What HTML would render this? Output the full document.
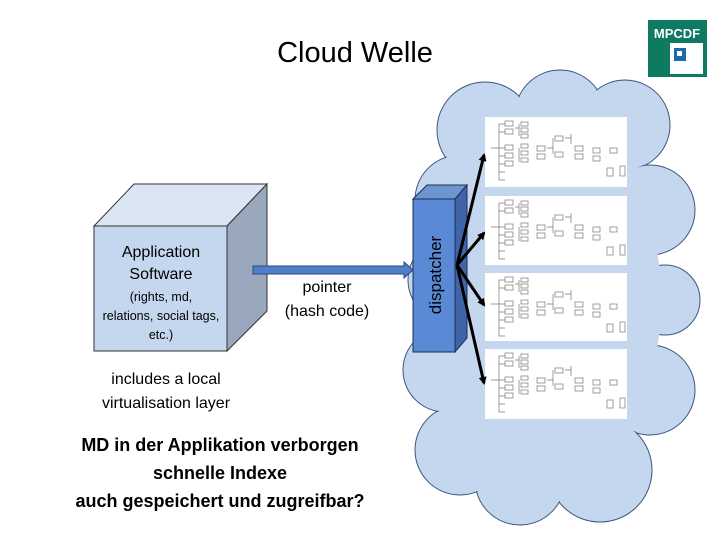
<!DOCTYPE html>
<html><head><meta charset="utf-8"><style>
body{margin:0;background:#fff}
svg{display:block}
text{font-family:"Liberation Sans",sans-serif}
</style></head><body>
<svg width="720" height="540" viewBox="0 0 720 540" xmlns="http://www.w3.org/2000/svg">
<defs>
<marker id="ah" markerWidth="8" markerHeight="8" refX="6" refY="4" orient="auto" markerUnits="userSpaceOnUse">
<path d="M0,0 L8,4 L0,8 Z" fill="#000"/></marker>
<g id="tree" fill="none" stroke="#777" stroke-width="0.7">
<path d="M6,30 H14 M14,6 V62 M14,6 H20 M14,14 H20 M14,30 H20 M14,38 H20 M14,46 H20 M14,54 H20 M14,62 H20"/>
<rect x="20" y="3" width="8" height="5"/><rect x="20" y="11" width="8" height="5"/><rect x="20" y="27" width="8" height="5"/><rect x="20" y="35" width="8" height="5"/><rect x="20" y="43" width="8" height="5"/>
<path d="M30,10 H34 M34,6 V18 M34,30 V44"/>
<rect x="36" y="4" width="7" height="4"/><rect x="36" y="10" width="7" height="4"/><rect x="36" y="16" width="7" height="4"/><rect x="36" y="26" width="7" height="4"/><rect x="36" y="33" width="7" height="4"/><rect x="36" y="40" width="7" height="4"/>
<rect x="52" y="28" width="8" height="5"/><rect x="52" y="36" width="8" height="5"/>
<path d="M62,30 H68 M68,20 V36"/><rect x="70" y="18" width="8" height="5"/><rect x="70" y="34" width="8" height="5"/>
<path d="M80,20 H86 M86,16 V26"/><rect x="90" y="28" width="8" height="5"/><rect x="90" y="36" width="8" height="5"/>
<rect x="108" y="30" width="7" height="5"/><rect x="108" y="38" width="7" height="5"/>
<rect x="125" y="30" width="7" height="5"/><rect x="122" y="50" width="6" height="8"/><rect x="135" y="48" width="5" height="10"/>
</g>
</defs>
<text x="355" y="62" font-size="29" text-anchor="middle" fill="#000">Cloud Welle</text>
<!-- logo -->
<rect x="648" y="20" width="59" height="57" fill="#0e7a62"/>
<text x="677" y="38" font-size="13" font-weight="bold" fill="#fff" text-anchor="middle">MPCDF</text>
<rect x="670" y="43" width="33" height="31" fill="#fff"/>
<rect x="674" y="48" width="12" height="13" fill="#1b6aa9"/>
<rect x="677" y="51" width="5" height="5" fill="#fff"/>
<!-- cloud -->
<g fill="#c5d7ee" stroke="#3a5680" stroke-width="1">
<circle cx="485" cy="130" r="48"/><circle cx="560" cy="115" r="45"/><circle cx="625" cy="125" r="45"/>
<circle cx="650" cy="210" r="45"/><circle cx="665" cy="300" r="35"/><circle cx="650" cy="390" r="45"/>
<circle cx="600" cy="470" r="52"/><circle cx="520" cy="480" r="45"/><circle cx="460" cy="450" r="45"/>
<circle cx="445" cy="370" r="42"/><circle cx="450" cy="280" r="42"/><circle cx="460" cy="200" r="45"/>
</g>
<g fill="#c5d7ee">
<circle cx="485" cy="130" r="47"/><circle cx="560" cy="115" r="44"/><circle cx="625" cy="125" r="44"/>
<circle cx="650" cy="210" r="44"/><circle cx="665" cy="300" r="34"/><circle cx="650" cy="390" r="44"/>
<circle cx="600" cy="470" r="51"/><circle cx="520" cy="480" r="44"/><circle cx="460" cy="450" r="44"/>
<circle cx="445" cy="370" r="41"/><circle cx="450" cy="280" r="41"/><circle cx="460" cy="200" r="44"/>
<polygon points="485,130 560,115 625,125 650,210 665,300 650,390 600,470 520,480 460,450 445,370 450,280 460,200"/>
</g>
<!-- panels -->
<rect x="485" y="117" width="142" height="70" fill="#fff"/>
<rect x="485" y="196" width="142" height="69" fill="#fff"/>
<rect x="485" y="273" width="142" height="68" fill="#fff"/>
<rect x="485" y="349" width="142" height="70" fill="#fff"/>
<use href="#tree" x="485" y="118"/><use href="#tree" x="485" y="197"/><use href="#tree" x="485" y="274"/><use href="#tree" x="485" y="350"/>
<!-- dispatcher -->
<polygon points="413,199 427,185 467,185 455,199" fill="#6d95d0" stroke="#1c2e50"/>
<polygon points="455,199 467,185 467,338 455,352" fill="#3f64a8" stroke="#1c2e50"/>
<rect x="413" y="199" width="42" height="153" fill="#5a8ad6" stroke="#1c2e50"/>
<text transform="translate(441,275) rotate(-90)" font-size="17" text-anchor="middle" fill="#000">dispatcher</text>
<!-- arrows -->
<g stroke="#000" stroke-width="3" marker-end="url(#ah)">
<line x1="457" y1="265" x2="484" y2="155"/>
<line x1="457" y1="265" x2="484" y2="233"/>
<line x1="457" y1="265" x2="484" y2="305"/>
<line x1="457" y1="265" x2="484" y2="383"/>
</g>
<!-- cube -->
<polygon points="94,226 134,184 267,184 227,226" fill="#dbe5f3" stroke="#333"/>
<polygon points="227,226 267,184 267,311 227,351" fill="#9aa8bd" stroke="#333"/>
<rect x="94" y="226" width="133" height="125" fill="#c5d7ee" stroke="#333"/>
<text x="161" y="257" font-size="16" text-anchor="middle">Application</text>
<text x="161" y="279" font-size="16" text-anchor="middle">Software</text>
<text x="161" y="301" font-size="12.5" text-anchor="middle">(rights, md,</text>
<text x="161" y="320" font-size="12.5" text-anchor="middle">relations, social tags,</text>
<text x="161" y="339" font-size="12.5" text-anchor="middle">etc.)</text>
<!-- pointer arrow -->
<polygon points="253,266 404,266 404,262 413,270 404,278 404,274 253,274" fill="#4f7fc8" stroke="#2a4a80"/>
<text x="327" y="292" font-size="16" text-anchor="middle">pointer</text>
<text x="327" y="316" font-size="16" text-anchor="middle">(hash code)</text>
<text x="166" y="384" font-size="16" text-anchor="middle">includes a local</text>
<text x="166" y="408" font-size="16" text-anchor="middle">virtualisation layer</text>
<g font-size="18" font-weight="bold" text-anchor="middle">
<text x="220" y="451">MD in der Applikation verborgen</text>
<text x="220" y="479">schnelle Indexe</text>
<text x="220" y="507">auch gespeichert und zugreifbar?</text>
</g>
</svg>
</body></html>
